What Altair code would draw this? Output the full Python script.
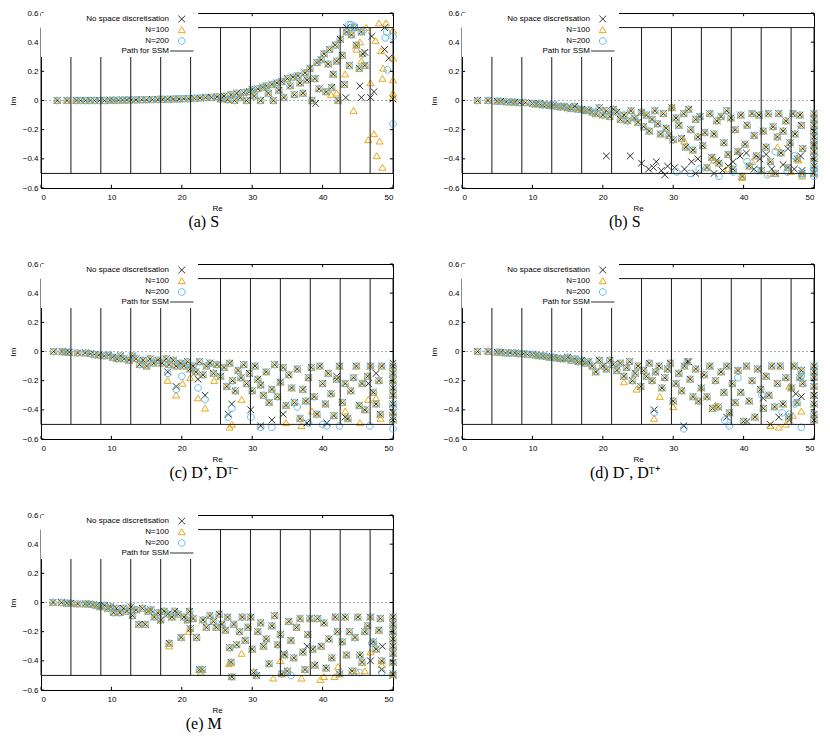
import altair as alt
import pandas as pd

SERIES = ["No space discretisation", "N=100", "N=200", "Path for SSM"]
COLORS = ["#1a1a1a", "#E69F00", "#56B4E9", "#1a1a1a"]
# Symbol paths are drawn 5 units to the right of their anchor so that, in the
# key, they sit to the right of the right-aligned labels (gnuplot style); the
# plotted points are moved back by the same amount with xOffset.
SYMBOL_SIZE = 45
SHIFT_UNITS = 5
SHIFT_PX = SHIFT_UNITS * (SYMBOL_SIZE ** 0.5) / 2
XPATH = "M4,-1L6,1M6,-1L4,1"
TRIPATH = "M5,-0.95L6.05,0.8L3.95,0.8Z"
CIRCPATH = "M6,0A1,1,0,1,1,4,0A1,1,0,1,1,6,0Z"
LINEPATH = "M1.5,0H8.5"
SHAPES = [XPATH, TRIPATH, CIRCPATH, LINEPATH]

SSM_X = [0, 4.25, 8.5, 12.75, 17, 21.25, 25.5, 29.75, 34, 38.25, 42.5, 46.75, 50]
SSM_Y = [-0.5, 0.5]
X_TICKS = [0, 10, 20, 30, 40, 50]
Y_TICKS = [-0.6, -0.4, -0.2, 0, 0.2, 0.4, 0.6]

# ---------------- panel (a) ----------------
A_ALL = [(2.3, 0), (3.7, 0), (5.0, 0), (5.6, 0), (6.3, 0), (7.0, 0), (7.6, 0), (8.3, 0), (9.0, 0),
         (9.8, 0.001), (10.3, 0.002), (11.0, 0.002), (11.6, 0.003), (12.2, 0.003), (12.8, 0.004),
         (13.5, 0.004), (14.3, 0.005), (15.0, 0.005), (15.8, 0.006), (16.6, 0.007), (17.3, 0.008),
         (18.0, 0.009), (18.8, 0.01), (19.6, 0.011), (20.3, 0.012), (21.0, 0.013), (21.8, 0.015),
         (22.6, 0.017), (23.4, 0.02), (24.2, 0.022), (25.0, 0.025), (25.5, 0.01), (26.0, 0.03),
         (26.5, 0.005), (27.0, 0.04), (27.5, 0.0), (27.8, 0.05), (28.3, 0.02), (28.8, 0.055),
         (29.2, 0.0), (29.6, 0.06), (30.0, 0.075), (30.3, 0.03), (30.8, 0.08), (31.2, 0.0),
         (31.5, 0.09), (32.0, 0.1), (32.3, 0.05), (32.8, 0.11), (33.0, 0.0), (33.5, 0.12),
         (33.8, 0.07), (34.2, 0.13), (34.5, 0.02), (35.0, 0.15), (35.4, 0.1), (35.8, 0.16),
         (36.0, 0.04), (36.5, 0.17), (36.8, 0.12), (37.2, 0.05), (37.5, 0.19), (37.8, 0.14),
         (38.2, 0.22), (38.5, 0.0), (38.9, 0.15), (39.2, 0.26), (39.5, 0.08), (39.8, 0.28),
         (40.2, 0.32), (40.5, 0.06), (40.8, 0.25), (41.0, 0.35), (41.3, 0.09), (41.5, 0.18),
         (41.8, 0.38), (42.0, 0.27), (42.2, 0.0), (42.5, 0.42), (42.8, 0.31), (43.1, 0.11),
         (43.4, 0.47), (43.8, 0.24), (44.1, 0.45), (44.5, 0.5), (44.8, 0.38), (45.2, 0.22),
         (45.5, 0.47), (45.7, 0.32), (46.0, 0.24)]
A_NOSP = [(46.0, 0.33), (45.3, 0.1), (46.8, 0.02), (47.3, 0.06), (47.0, 0.44), (48.8, 0.5),
          (48.8, 0.35), (49.4, 0.29), (45.5, 0.02), (43.3, 0.02), (50, 0.01), (43.4, 0.5), (39, -0.02)]
A_N100 = [(43.2, 0.18), (44.4, -0.07), (44.8, 0.35), (45.3, 0.4), (45.5, 0.27), (46.2, 0.5),
          (46.5, -0.27), (46.8, 0.12), (47.3, -0.23), (47.5, 0.41), (47.7, -0.38), (48.0, 0.53),
          (48.1, -0.28), (48.3, 0.34), (48.5, -0.46), (48.5, 0.15), (48.6, 0.22), (49.0, 0.53),
          (50, 0.48), (50, 0.29), (50, 0.14), (50, 0.05), (50, 0.02), (41.2, 0.04), (42, 0.05)]
A_N200 = [(43.7, 0.52), (44.0, 0.52), (44.5, 0.51), (48.9, 0.43), (49.1, 0.47), (49.2, 0.21),
          (50, 0.44), (50, -0.16), (45.8, 0.48)]

# ---------------- panel (b) ----------------
B_ALL = [(2.2, 0), (3.7, 0), (5, -0.005), (5.5, -0.005), (6.3, -0.01), (7, -0.01), (7.5, -0.012),
         (8.2, -0.015), (9, -0.015), (10, -0.02), (10.5, -0.025), (11, -0.02), (11.5, -0.03),
         (12, -0.03), (12.5, -0.035), (13, -0.03), (13.5, -0.04), (14, -0.045), (14.5, -0.04),
         (15, -0.05), (15.5, -0.055), (16, -0.04), (16.5, -0.06), (17, -0.06), (17.5, -0.07),
         (18, -0.065), (18.5, -0.08), (19, -0.09), (19.5, -0.05), (20, -0.1), (20.5, -0.07),
         (21, -0.11), (21.5, -0.06), (22, -0.08), (22.5, -0.13), (23, -0.1), (23.5, -0.14),
         (24, -0.07), (24.5, -0.12), (25, -0.15), (25.5, -0.08), (25.8, -0.18), (26.2, -0.1),
         (26.6, -0.21), (27, -0.13), (27.4, -0.07), (27.8, -0.16), (28.2, -0.23), (28.6, -0.09),
         (29, -0.19), (29.4, -0.24), (29.8, -0.05), (30, -0.27), (30.4, -0.12), (30.8, -0.17),
         (31.2, -0.26), (31.5, -0.09), (31.8, -0.32), (32.2, -0.06), (32.5, -0.2), (32.8, -0.34),
         (33.2, -0.13), (33.5, -0.25), (33.8, -0.11), (34.2, -0.31), (34.5, -0.22), (34.8, -0.46),
         (35.2, -0.09), (35.5, -0.39), (35.8, -0.23), (36.2, -0.14), (36.5, -0.43), (36.8, -0.11),
         (37.2, -0.29), (37.6, -0.07), (37.8, -0.37), (38.2, -0.12), (38.5, -0.47), (38.8, -0.2),
         (39.2, -0.35), (39.6, -0.1), (39.8, -0.52), (40.2, -0.3), (40.5, -0.17), (40.8, -0.45),
         (41.2, -0.09), (41.5, -0.24), (41.8, -0.38), (42.2, -0.1), (42.5, -0.48), (42.8, -0.21),
         (43.2, -0.32), (43.5, -0.09), (43.8, -0.42), (44.2, -0.18), (44.5, -0.5), (44.8, -0.25),
         (45, -0.09), (45.3, -0.36), (45.6, -0.21), (46, -0.14), (46.3, -0.46), (46.6, -0.29),
         (47, -0.09), (47.3, -0.23), (47.6, -0.4), (48, -0.1), (48.2, -0.17), (48.3, -0.5),
         (48.4, -0.33), (50, -0.09), (50, -0.13), (50, -0.17), (50, -0.21), (50, -0.25),
         (50, -0.3), (50, -0.35), (50, -0.4), (50, -0.45), (50, -0.5)]
B_NOSP = [(20.5, -0.38), (23.9, -0.38), (25.5, -0.43), (26.5, -0.47), (27.2, -0.46), (27.6, -0.42),
          (28.3, -0.48), (28.8, -0.51), (29.2, -0.45), (30.2, -0.46), (31.6, -0.47), (32.6, -0.42),
          (33.2, -0.5), (33.5, -0.4), (35.8, -0.5), (36.2, -0.41), (37, -0.48), (37.8, -0.45),
          (38.5, -0.42), (39.5, -0.38), (40.4, -0.36), (41.5, -0.47), (42.3, -0.4), (43.2, -0.37),
          (44, -0.47), (45.6, -0.44), (46.3, -0.33), (47.2, -0.47), (48.1, -0.38), (48.3, -0.48),
          (50, -0.31)]
B_N100 = [(29.8, -0.04), (31.6, -0.28), (35.8, -0.41), (37.8, -0.47), (39.8, -0.53), (41.2, -0.42),
          (43.8, -0.5), (44.8, -0.32), (46.7, -0.49), (48.3, -0.52), (47.8, -0.41)]
B_N200 = [(30.5, -0.49), (32.4, -0.5), (33.7, -0.47), (36.5, -0.52), (38.5, -0.49), (40.5, -0.42),
          (42, -0.48), (43.4, -0.51), (44.5, -0.35), (46.2, -0.49), (47.2, -0.38), (48.3, -0.51),
          (50, -0.52), (50, -0.47)]

# ---------------- panel (c) ----------------
C_ALL = [(1.8, 0), (3, 0), (3.5, -0.005), (4, -0.005), (5.2, -0.01), (6.3, -0.01), (7, -0.015),
         (7.6, -0.02), (8.2, -0.025), (9, -0.03), (9.6, -0.025), (10.2, -0.04), (10.8, -0.05),
         (11.3, -0.03), (11.8, -0.05), (12.5, -0.06), (13, -0.03), (13.5, -0.05), (14, -0.09),
         (14.5, -0.06), (15, -0.1), (15.5, -0.05), (16, -0.08), (16.6, -0.06), (17.2, -0.08),
         (17.8, -0.05), (18.2, -0.09), (18.8, -0.06), (19.2, -0.1), (19.8, -0.08), (20.3, -0.1),
         (20.8, -0.07), (21.2, -0.12), (21.6, -0.1), (22, -0.14), (22.5, -0.07), (23, -0.16),
         (23.5, -0.1), (24, -0.08), (24.5, -0.15), (25, -0.09), (25.5, -0.17), (26, -0.11),
         (26.4, -0.24), (26.8, -0.08), (27.2, -0.2), (27.6, -0.27), (28, -0.13), (28.4, -0.18),
         (28.8, -0.09), (29.2, -0.22), (29.6, -0.15), (30, -0.27), (30.4, -0.1), (30.8, -0.19),
         (31.2, -0.23), (31.6, -0.3), (32, -0.14), (32.4, -0.35), (32.8, -0.26), (33.2, -0.09),
         (33.6, -0.31), (34, -0.21), (34.4, -0.11), (34.8, -0.37), (35.2, -0.16), (35.6, -0.25),
         (36, -0.35), (36.4, -0.12), (36.8, -0.46), (37.2, -0.26), (37.6, -0.34), (38, -0.18),
         (38.4, -0.11), (38.8, -0.31), (39.2, -0.43), (39.6, -0.1), (40, -0.22), (40.4, -0.36),
         (40.8, -0.15), (41.2, -0.29), (41.6, -0.44), (42, -0.19), (42.4, -0.1), (42.8, -0.35),
         (43.2, -0.22), (43.6, -0.46), (44, -0.27), (44.4, -0.18), (44.8, -0.1), (45.2, -0.37),
         (45.6, -0.22), (46, -0.4), (46.4, -0.17), (46.8, -0.1), (47.2, -0.28), (47.6, -0.36),
         (48, -0.2), (48.2, -0.43), (48.4, -0.1), (50, -0.1), (50, -0.15), (50, -0.2), (50, -0.25),
         (50, -0.3), (50, -0.36), (50, -0.42), (50, -0.47)]
C_NOSP = [(18, -0.14), (19.2, -0.24), (22.3, -0.19), (23.3, -0.3), (26.6, -0.43), (27.1, -0.36),
          (29.8, -0.4), (31.2, -0.51), (32.8, -0.47), (34.4, -0.43), (37.8, -0.49), (40.6, -0.49),
          (43.2, -0.45), (46.5, -0.22), (50, -0.45), (47.6, -0.15), (50, -0.08), (42, -0.17)]
C_N100 = [(18, -0.2), (19.2, -0.3), (20.1, -0.22), (21.2, -0.18), (22.3, -0.32), (23.3, -0.39),
          (24.6, -0.2), (26.8, -0.52), (27.1, -0.5), (28.5, -0.33), (34.8, -0.49), (37, -0.51),
          (38.5, -0.41), (43.2, -0.41), (45.3, -0.49), (46.5, -0.33), (47.6, -0.32), (48.2, -0.46)]
C_N200 = [(18, -0.15), (19.2, -0.26), (20, -0.17), (22.3, -0.25), (23.3, -0.33), (26.6, -0.45),
          (27.1, -0.39), (29.8, -0.45), (31.2, -0.52), (32.8, -0.52), (36.4, -0.38), (38, -0.49),
          (40, -0.5), (40.6, -0.51), (42.4, -0.51), (46.7, -0.51), (50, -0.53), (50, -0.38)]

# ---------------- panel (d) ----------------
D_ALL = [(2.2, 0), (3.7, 0), (5, -0.005), (5.5, -0.005), (6.2, -0.01), (6.8, -0.01), (7.5, -0.01),
         (8, -0.015), (8.7, -0.015), (9.3, -0.02), (10, -0.02), (10.5, -0.025), (11, -0.03),
         (11.5, -0.03), (12, -0.035), (12.5, -0.04), (13, -0.04), (13.5, -0.045), (14, -0.05),
         (14.5, -0.05), (15, -0.04), (15.5, -0.06), (16, -0.05), (16.5, -0.07), (17, -0.06),
         (17.5, -0.08), (18, -0.07), (18.5, -0.1), (19, -0.14), (19.5, -0.06), (20, -0.1),
         (20.5, -0.12), (21, -0.06), (21.5, -0.09), (22, -0.13), (22.5, -0.08), (23, -0.17),
         (23.4, -0.11), (23.8, -0.07), (24.2, -0.2), (24.6, -0.15), (25, -0.1), (25.4, -0.24),
         (25.8, -0.13), (26.2, -0.17), (26.6, -0.08), (27, -0.2), (27.5, -0.14), (28, -0.1),
         (28.4, -0.25), (28.8, -0.18), (29.2, -0.12), (29.6, -0.08), (30, -0.34), (30.4, -0.22),
         (30.8, -0.15), (31.2, -0.27), (31.6, -0.1), (32, -0.07), (32.4, -0.19), (32.8, -0.31),
         (33.2, -0.12), (33.6, -0.34), (34, -0.25), (34.4, -0.16), (34.8, -0.31), (35.2, -0.1),
         (35.6, -0.39), (36, -0.2), (36.4, -0.38), (36.8, -0.14), (37.2, -0.28), (37.6, -0.1),
         (38, -0.42), (38.4, -0.22), (38.8, -0.35), (39.2, -0.13), (39.6, -0.28), (40, -0.48),
         (40.4, -0.1), (40.8, -0.34), (41.2, -0.2), (41.6, -0.45), (42, -0.12), (42.4, -0.26),
         (42.8, -0.39), (43.2, -0.17), (43.6, -0.3), (44, -0.1), (44.4, -0.38), (44.8, -0.22),
         (45.2, -0.1), (45.6, -0.36), (46, -0.18), (46.4, -0.45), (46.8, -0.25), (47.2, -0.1),
         (47.6, -0.35), (48, -0.18), (48.2, -0.13), (48.4, -0.22), (50, -0.1), (50, -0.14),
         (50, -0.18), (50, -0.24), (50, -0.3), (50, -0.36), (50, -0.43), (50, -0.47)]
D_NOSP = [(27.3, -0.4), (31.5, -0.51), (32.2, -0.07), (37.6, -0.45), (40.5, -0.48), (43.8, -0.5),
          (45, -0.45), (46.5, -0.47), (47.4, -0.29), (48.2, -0.31), (50, -0.3), (42.8, -0.32)]
D_N100 = [(27.3, -0.46), (23, -0.21), (24.8, -0.26), (28.1, -0.31), (30, -0.38), (36, -0.37),
          (43.8, -0.51), (45, -0.52), (46, -0.5), (48.2, -0.41), (46.5, -0.24), (47, -0.44)]
D_N200 = [(27.3, -0.42), (31.5, -0.53), (38, -0.51), (37.3, -0.47), (39.2, -0.18), (42.6, -0.3),
          (45.5, -0.42), (46.5, -0.43), (48.2, -0.52), (48.2, -0.17), (47.3, -0.36)]

# ---------------- panel (e) ----------------
E_ALL = [(1.7, 0), (2.9, 0), (3.7, -0.005), (4.2, -0.005), (5.2, -0.01), (6.3, -0.01), (6.8, -0.01),
         (7.4, -0.015), (7.9, -0.02), (8.4, -0.03), (9.0, -0.02), (9.5, -0.04), (9.9, -0.03),
         (10.3, -0.07), (10.7, -0.04), (11.2, -0.07), (11.7, -0.04), (12.2, -0.06), (12.8, -0.03),
         (13, -0.09), (13.5, -0.05), (13.9, -0.15), (14.4, -0.04), (14.8, -0.15), (15.2, -0.06),
         (15.6, -0.05), (16.1, -0.1), (16.6, -0.07), (17, -0.12), (17.5, -0.06), (18, -0.08),
         (18.2, -0.28), (18.6, -0.1), (19, -0.06), (19.5, -0.08), (19.9, -0.24), (20.3, -0.1),
         (20.8, -0.12), (21.1, -0.06), (21.2, -0.18), (21.6, -0.11), (22.1, -0.24), (22.5, -0.46),
         (22.9, -0.46), (23, -0.12), (23.5, -0.17), (24, -0.09), (24.5, -0.13), (24.9, -0.17),
         (25.3, -0.08), (25.7, -0.15), (26.2, -0.19), (26.5, -0.1), (26.8, -0.31), (27, -0.41),
         (27.1, -0.51), (27.4, -0.15), (27.8, -0.29), (28.2, -0.2), (28.6, -0.1), (29, -0.26),
         (29.4, -0.17), (29.8, -0.1), (30, -0.32), (30.2, -0.48), (30.6, -0.5), (30.8, -0.2),
         (31.2, -0.14), (31.6, -0.3), (32, -0.25), (32.4, -0.42), (32.8, -0.16), (33.2, -0.09),
         (33.6, -0.29), (34, -0.22), (34.2, -0.49), (34.6, -0.36), (35, -0.47), (35.2, -0.13),
         (35.5, -0.26), (35.9, -0.38), (36.3, -0.17), (36.8, -0.11), (37.2, -0.34), (37.5, -0.46),
         (37.9, -0.22), (38.2, -0.11), (38.6, -0.32), (38.9, -0.43), (39.3, -0.11), (39.8, -0.3),
         (40.2, -0.14), (40.5, -0.45), (40.9, -0.25), (41.3, -0.38), (41.8, -0.1), (42.1, -0.2),
         (42.4, -0.49), (42.8, -0.27), (43.2, -0.1), (43.4, -0.36), (43.8, -0.2), (44.2, -0.47),
         (44.6, -0.24), (45, -0.1), (45.3, -0.36), (45.6, -0.41), (46, -0.2), (46.4, -0.16),
         (46.8, -0.1), (47.2, -0.27), (47.6, -0.32), (48, -0.19), (48.2, -0.11), (48.4, -0.4),
         (50, -0.1), (50, -0.15), (50, -0.2), (50, -0.25), (50, -0.3), (50, -0.35), (50, -0.41),
         (50, -0.49)]
E_NOSP = [(46.8, -0.4), (48.5, -0.3), (48.4, -0.46), (50, -0.5), (34.5, -0.35), (37.8, -0.3)]
E_N100 = [(18.2, -0.3), (21, -0.2), (22.7, -0.48), (28.5, -0.35), (33, -0.52), (34, -0.4),
          (37, -0.52), (39.7, -0.53), (40.2, -0.51), (41.7, -0.51), (44.8, -0.47), (46, -0.47),
          (46.8, -0.34), (48.4, -0.43), (42.2, -0.44), (26.7, -0.42)]
E_N200 = [(35.5, -0.5), (45.2, -0.48), (48.4, -0.48), (47, -0.28)]

CAPTIONS = ["(a)  S", "(b)  S", "(c)  D\u207a,  D\u1d40\u207b", "(d)  D\u207b,  D\u1d40\u207a", "(e)  M"]

FONT = "Liberation Sans"
W, H = 352, 175


def legend():
    return alt.Legend(
        title=None, orient="none", legendX=0, legendY=0, fillColor="white", padding=2,
        labelFont=FONT, labelFontSize=8, labelColor="black", labelAlign="right",
        labelOffset=0, symbolOffset=118, rowPadding=0, symbolSize=SYMBOL_SIZE,
        symbolStrokeWidth=0.9, labelLimit=0,
    )


def panel(common, nosp, n100, n200, caption):
    rows = []
    for s, extra in zip(SERIES[:3], [nosp, n100, n200]):
        for x, y in common + extra:
            rows.append({"re": x, "im": y, "series": s})
    pts_df = pd.DataFrame(rows)

    path_rows = [{"x": x, "x2": x, "y": SSM_Y[0], "y2": SSM_Y[1], "series": SERIES[3]} for x in SSM_X]
    path_rows += [{"x": SSM_X[0], "x2": SSM_X[-1], "y": y, "y2": y, "series": SERIES[3]} for y in SSM_Y]
    path_df = pd.DataFrame(path_rows)

    tick_rows = []
    for t in X_TICKS:
        tick_rows.append({"x": t, "x2": t, "y": -0.6, "y2": -0.578})
        tick_rows.append({"x": t, "x2": t, "y": 0.6, "y2": 0.578})
    for t in Y_TICKS:
        tick_rows.append({"x": 0, "x2": 0.45, "y": t, "y2": t})
        tick_rows.append({"x": 49.55, "x2": 50, "y": t, "y2": t})
    tick_df = pd.DataFrame(tick_rows)

    zero_df = pd.DataFrame({"x": [SSM_X[0]], "x2": [SSM_X[-1]], "y": [0], "y2": [0]})

    xs = alt.Scale(domain=[0, 50], nice=False, zero=False)
    ys = alt.Scale(domain=[-0.6, 0.6], nice=False, zero=False)
    xax = alt.Axis(values=X_TICKS, format="d", title="Re", labelPadding=5, titlePadding=3)
    yax = alt.Axis(values=Y_TICKS, labelExpr="datum.value == 0 ? '0' : format(datum.value, '.1f')",
                   title="Im", labelPadding=3, titlePadding=5)

    zero = alt.Chart(zero_df).mark_rule(color="#999999", strokeWidth=0.8, strokeDash=[2, 2]).encode(
        x=alt.X("x:Q", scale=xs, axis=xax), x2="x2:Q",
        y=alt.Y("y:Q", scale=ys, axis=yax), y2="y2:Q")

    leg = legend()
    color = alt.Color("series:N", scale=alt.Scale(domain=SERIES, range=COLORS), legend=leg)
    shape = alt.Shape("series:N", scale=alt.Scale(domain=SERIES, range=SHAPES), legend=leg)

    pts = alt.Chart(pts_df).mark_point(filled=False, size=SYMBOL_SIZE, strokeWidth=0.9, opacity=1,
                                       xOffset=-SHIFT_PX).encode(
        x=alt.X("re:Q", scale=xs, axis=xax),
        y=alt.Y("im:Q", scale=ys, axis=yax),
        color=color, shape=shape)

    path = alt.Chart(path_df).mark_rule(strokeWidth=1).encode(
        x=alt.X("x:Q", scale=xs, axis=xax), x2="x2:Q",
        y=alt.Y("y:Q", scale=ys, axis=yax), y2="y2:Q",
        color=color)

    ticks = alt.Chart(tick_df).mark_rule(strokeWidth=1, color="black").encode(
        x=alt.X("x:Q", scale=xs, axis=xax), x2="x2:Q",
        y=alt.Y("y:Q", scale=ys, axis=yax), y2="y2:Q")

    return alt.layer(zero, pts, path, ticks).properties(
        width=W, height=H,
        title=alt.TitleParams(caption, orient="bottom", anchor="middle", frame="bounds",
                              font="Liberation Serif", fontSize=16, fontWeight="normal",
                              color="black", offset=2),
    )


pa = panel(A_ALL, A_NOSP, A_N100, A_N200, CAPTIONS[0])
pb = panel(B_ALL, B_NOSP, B_N100, B_N200, CAPTIONS[1])
pc = panel(C_ALL, C_NOSP, C_N100, C_N200, CAPTIONS[2])
pd_ = panel(D_ALL, D_NOSP, D_N100, D_N200, CAPTIONS[3])
pe = panel(E_ALL, E_NOSP, E_N100, E_N200, CAPTIONS[4])


def indep(c):
    return c.resolve_scale(color="independent", shape="independent").resolve_legend(
        color="independent", shape="independent")


row1 = indep(alt.hconcat(pa, pb, spacing=30))
row2 = indep(alt.hconcat(pc, pd_, spacing=30))
chart = indep(alt.vconcat(row1, row2, pe, spacing=28)).configure(
    font=FONT, padding=0, background="white"
).configure_view(stroke="black", strokeWidth=1).configure_axis(
    labelFont=FONT, labelFontSize=8, labelColor="black", titleFont=FONT, titleFontSize=8,
    titleFontWeight="normal", titleColor="black", grid=False, domain=False, ticks=False,
).configure_legend(labelFont=FONT, labelFontSize=8, labelLimit=0)

chart.save("out.html", embed_options={"renderer": "svg", "actions": False})
